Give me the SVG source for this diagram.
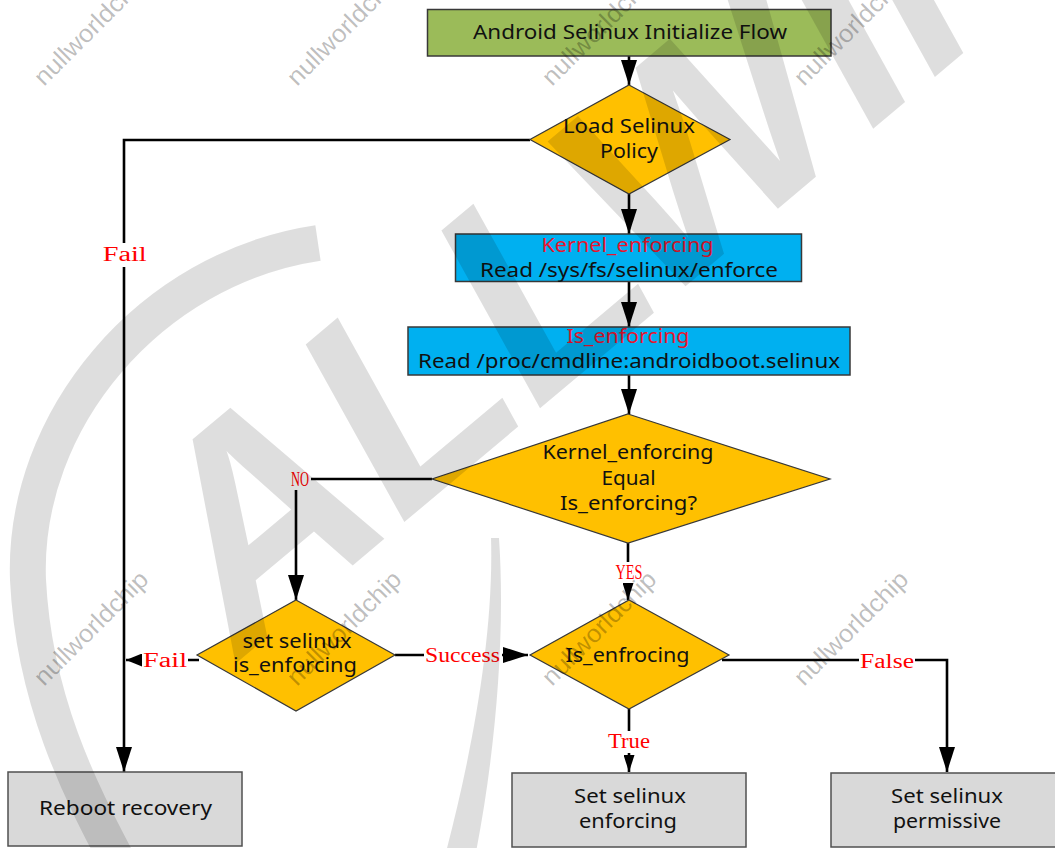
<svg xmlns="http://www.w3.org/2000/svg" width="1055" height="848" viewBox="0 0 1055 848">
<style>
.node{stroke:#383838;stroke-width:1.5}
.green{fill:#9BBB59}
.orange{fill:#FFC000;stroke-width:1.2}
.blue{fill:#00B0F0}
.gray{fill:#D9D9D9;stroke:#505050}
.t{font-family:"Noto Sans","Open Sans","Liberation Sans",sans-serif;font-size:20px;fill:#111;text-anchor:middle}
.tr{fill:#E8142E}
.lbl{font-family:"Liberation Serif","DejaVu Serif",serif;font-size:20px;fill:#FF0000;text-anchor:middle}
.bg{fill:#fff}
.ln{fill:none;stroke:#000;stroke-width:2.6}
.wm{fill:#000;fill-opacity:0.13}
.wt{font-family:"Liberation Sans","Noto Sans",sans-serif;font-size:25px;fill:#000;fill-opacity:0.26}
</style>
<defs>
<marker id="big" markerUnits="userSpaceOnUse" markerWidth="26" markerHeight="16" refX="25" refY="8" orient="auto"><path d="M0,0 L25,8 L0,16 z" fill="#000"/></marker>
<marker id="mid" markerUnits="userSpaceOnUse" markerWidth="17" markerHeight="13" refX="16" refY="6.5" orient="auto"><path d="M0,0 L16,6.5 L0,13 z" fill="#000"/></marker>
<marker id="small" markerUnits="userSpaceOnUse" markerWidth="18" markerHeight="11" refX="17" refY="5.5" orient="auto"><path d="M0,0 L17,5.5 L0,11 z" fill="#000"/></marker>
</defs>
<rect width="1055" height="848" fill="#fff"/>

<g id="connectors">
<path class="ln" d="M629 56 V85" marker-end="url(#big)"/>
<path class="ln" d="M530 140 H124 V772" marker-end="url(#big)"/>
<path class="ln" d="M629 194 V234" marker-end="url(#big)"/>
<path class="ln" d="M629 282 V327" marker-end="url(#big)"/>
<path class="ln" d="M629 375 V414" marker-end="url(#big)"/>
<path class="ln" d="M432 479 H311"/>
<path class="ln" d="M296 490 V600" marker-end="url(#big)"/>
<path class="ln" d="M628 543 V600" marker-end="url(#small)"/>
<path class="ln" d="M199 660 H126" marker-end="url(#mid)"/>
<path class="ln" d="M395 655 H528" marker-end="url(#big)"/>
<path class="ln" d="M722 660 H947 V772" marker-end="url(#big)"/>
<path class="ln" d="M629 709 V772" marker-end="url(#small)"/>
<rect class="bg" x="101" y="243" width="48" height="24"/>
<text class="lbl" x="124.7" y="261" textLength="44" lengthAdjust="spacingAndGlyphs">Fail</text>
<rect class="bg" x="289" y="469" width="22" height="20"/>
<text class="lbl" x="300" y="486" textLength="18" lengthAdjust="spacingAndGlyphs">NO</text>
<rect class="bg" x="613" y="562" width="31" height="21"/>
<text class="lbl" x="629" y="579" textLength="27" lengthAdjust="spacingAndGlyphs">YES</text>
<rect class="bg" x="142" y="649" width="46" height="22"/>
<text class="lbl" x="165" y="667" textLength="44" lengthAdjust="spacingAndGlyphs">Fail</text>
<rect class="bg" x="424" y="645" width="78" height="20"/>
<text class="lbl" x="462.5" y="662" textLength="75" lengthAdjust="spacingAndGlyphs">Success</text>
<rect class="bg" x="859" y="651" width="56" height="20"/>
<text class="lbl" x="887" y="668" textLength="54" lengthAdjust="spacingAndGlyphs">False</text>
<rect class="bg" x="606" y="731" width="46" height="22"/>
<text class="lbl" x="629" y="748" textLength="42" lengthAdjust="spacingAndGlyphs">True</text>
</g>

<g id="n_title">
<rect class="node green" x="427.5" y="9.5" width="403.5" height="46.5"/>
<text class="t" x="630" y="39" textLength="314" lengthAdjust="spacingAndGlyphs">Android Selinux Initialize Flow</text>
</g>
<g id="n_load">
<polygon class="node orange" points="629,85 730,139.5 629,194 530,139.5"/>
<text class="t" x="629" y="133" textLength="132" lengthAdjust="spacingAndGlyphs">Load Selinux</text>
<text class="t" x="629" y="158" textLength="58" lengthAdjust="spacingAndGlyphs">Policy</text>
</g>
<g id="n_kernel">
<rect class="node blue" x="455.5" y="234" width="346" height="47.5"/>
<text class="t tr" x="627.5" y="251.5" textLength="172" lengthAdjust="spacingAndGlyphs">Kernel_enforcing</text>
<text class="t" x="629" y="277" textLength="298" lengthAdjust="spacingAndGlyphs">Read /sys/fs/selinux/enforce</text>
</g>
<g id="n_is">
<rect class="node blue" x="408" y="327" width="442" height="48"/>
<text class="t tr" x="628" y="342.5" textLength="123" lengthAdjust="spacingAndGlyphs">Is_enforcing</text>
<text class="t" x="629" y="368" textLength="422" lengthAdjust="spacingAndGlyphs">Read /proc/cmdline:androidboot.selinux</text>
</g>
<g id="n_equal">
<polygon class="node orange" points="628,414 830,479 628,543 432,479"/>
<text class="t" x="628" y="459" textLength="171" lengthAdjust="spacingAndGlyphs">Kernel_enforcing</text>
<text class="t" x="628.5" y="485" textLength="54" lengthAdjust="spacingAndGlyphs">Equal</text>
<text class="t" x="628.5" y="510" textLength="137" lengthAdjust="spacingAndGlyphs">Is_enforcing?</text>
</g>
<g id="n_set">
<polygon class="node orange" points="296,600 395,655 296,711 197,655"/>
<text class="t" x="297" y="648" textLength="109" lengthAdjust="spacingAndGlyphs">set selinux</text>
<text class="t" x="295" y="672" textLength="124" lengthAdjust="spacingAndGlyphs">is_enforcing</text>
</g>
<g id="n_isenf">
<polygon class="node orange" points="629,600 729,655 629,709 530,655"/>
<text class="t" x="627.5" y="662" textLength="124" lengthAdjust="spacingAndGlyphs">Is_enfrocing</text>
</g>
<g id="n_reboot">
<rect class="node gray" x="8" y="772" width="234" height="74"/>
<text class="t" x="125.5" y="815" textLength="173" lengthAdjust="spacingAndGlyphs">Reboot recovery</text>
</g>
<g id="n_enforcing">
<rect class="node gray" x="512" y="773" width="234" height="74"/>
<text class="t" x="630" y="803" textLength="112" lengthAdjust="spacingAndGlyphs">Set selinux</text>
<text class="t" x="628" y="828" textLength="98" lengthAdjust="spacingAndGlyphs">enforcing</text>
</g>
<g id="n_permissive">
<rect class="node gray" x="831" y="773" width="234" height="74"/>
<text class="t" x="947" y="803" textLength="112" lengthAdjust="spacingAndGlyphs">Set selinux</text>
<text class="t" x="947" y="828" textLength="108" lengthAdjust="spacingAndGlyphs">permissive</text>
</g>

<g id="watermark">
<path d="M318 243 C150 268 22 420 28 580 C34 700 80 790 118 862" fill="none" stroke="#000" stroke-opacity="0.13" stroke-width="36"/>
<path class="wm" d="M491 538 L499 538 C506 640 494 760 476 852 L446 852 C470 760 494 640 491 538 z"/>
<text class="wm" x="240" y="660" transform="rotate(-40 240 660)" font-family="Liberation Sans, sans-serif" font-weight="bold" font-style="italic" font-size="290">ALLWINNER</text>
<text class="wt" x="44" y="87" transform="rotate(-45 44 87)" textLength="150" lengthAdjust="spacingAndGlyphs">nullworldchip</text>
<text class="wt" x="297" y="87" transform="rotate(-45 297 87)" textLength="150" lengthAdjust="spacingAndGlyphs">nullworldchip</text>
<text class="wt" x="552" y="87" transform="rotate(-45 552 87)" textLength="150" lengthAdjust="spacingAndGlyphs">nullworldchip</text>
<text class="wt" x="804" y="87" transform="rotate(-45 804 87)" textLength="150" lengthAdjust="spacingAndGlyphs">nullworldchip</text>
<text class="wt" x="44" y="687" transform="rotate(-45 44 687)" textLength="150" lengthAdjust="spacingAndGlyphs">nullworldchip</text>
<text class="wt" x="297" y="687" transform="rotate(-45 297 687)" textLength="150" lengthAdjust="spacingAndGlyphs">nullworldchip</text>
<text class="wt" x="552" y="687" transform="rotate(-45 552 687)" textLength="150" lengthAdjust="spacingAndGlyphs">nullworldchip</text>
<text class="wt" x="804" y="687" transform="rotate(-45 804 687)" textLength="150" lengthAdjust="spacingAndGlyphs">nullworldchip</text>
</g>
</svg>
